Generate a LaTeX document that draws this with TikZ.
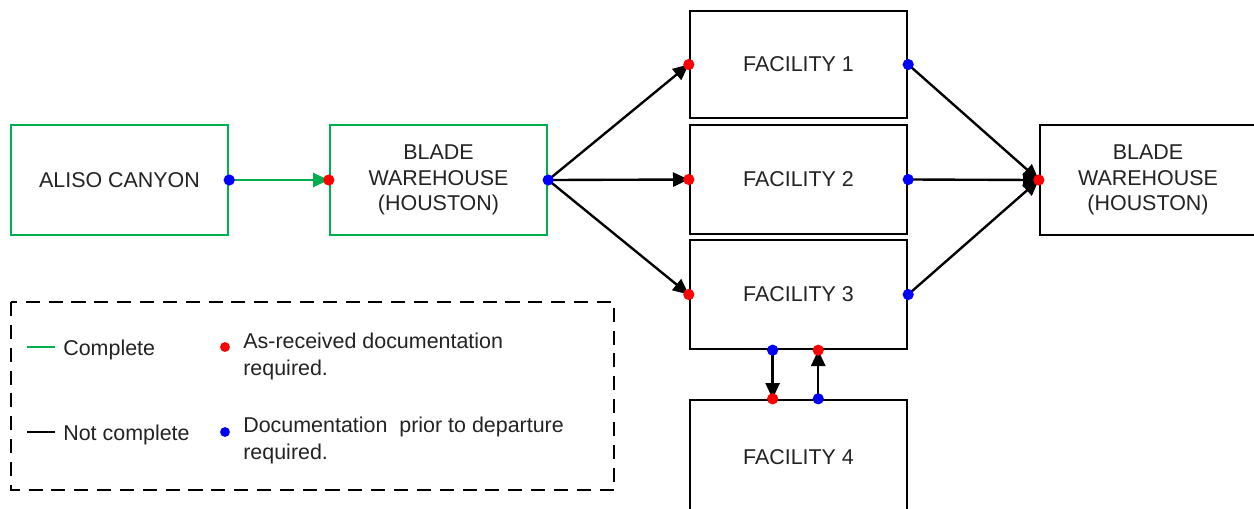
\documentclass[tikz,border=0pt]{standalone}
\usepackage{fontspec}
\setmainfont{Liberation Sans}
\usetikzlibrary{arrows.meta,calc}
\definecolor{cgreen}{RGB}{0,176,80}
\definecolor{cred}{RGB}{255,0,0}
\definecolor{cblue}{RGB}{0,0,255}
\definecolor{ctext}{RGB}{35,35,35}
\begin{document}
\begin{tikzpicture}[x=0.02cm,y=-0.02cm,
  box/.style={draw=black,line width=1.35pt,minimum width=217*0.02cm,minimum height=109*0.02cm,
    inner sep=0pt,align=center,font=\fontsize{12.2}{14.6}\selectfont,text=ctext},
  gbox/.style={box,draw=cgreen},
  conn/.style={line width=1.35pt,-{Triangle[length=9pt,width=8pt]}},
  rdot/.style={circle,fill=cred,inner sep=0pt,minimum size=6.4pt},
  bdot/.style={circle,fill=cblue,inner sep=0pt,minimum size=6.4pt},
  leg/.style={anchor=base west,inner sep=0pt,font=\fontsize{12.2}{14.6}\selectfont,text=ctext}]
\clip (0,0) rectangle (1254,508);
\fill[white] (0,0) rectangle (1254,508);
% boxes
\node[gbox,minimum height=110*0.02cm] (aliso) at (119.5,180) {ALISO CANYON};
\node[gbox,minimum height=110*0.02cm] (blade) at (438.5,180) {BLADE\\WAREHOUSE\\(HOUSTON)};
\node[box,minimum height=107*0.02cm] (f1) at (798.5,64.5) {FACILITY 1};
\node[box] (f2) at (798.5,179.5) {FACILITY 2};
\node[box] (f3) at (798.5,294.5) {FACILITY 3};
\node[box,minimum height=114*0.02cm] (f4) at (798.5,457) {FACILITY 4};
\node[box,minimum width=216*0.02cm,minimum height=110*0.02cm] (wh) at (1148,180) {BLADE\\WAREHOUSE\\(HOUSTON)};
% coordinates between facility 3 and 4
\coordinate (f3a) at ($(f3.south west)!0.382!(f3.south east)$);
\coordinate (f3b) at ($(f3.south west)!0.590!(f3.south east)$);
\coordinate (f4a) at ($(f4.north west)!0.382!(f4.north east)$);
\coordinate (f4b) at ($(f4.north west)!0.590!(f4.north east)$);
% connectors
\draw[conn,draw=cgreen,fill=cgreen] (aliso.east) -- (blade.west);
\draw[conn] (blade.east) -- (f1.west);
\draw[conn] (blade.east) -- (f2.west);
\draw[conn] (blade.east) -- (f3.west);
\draw[conn] (f1.east) -- (wh.west);
\draw[conn] (f2.east) -- (wh.west);
\draw[conn] (f3.east) -- (wh.west);
\draw[conn] (f3a) -- (f4a);
\draw[conn] (f4b) -- (f3b);
% dots
\node[bdot] (d1) at (aliso.east) {};
\node[rdot] (d2) at (blade.west) {};
\node[bdot] (d3) at (blade.east) {};
\node[rdot] (d4) at (f1.west) {};
\node[rdot] (d5) at (f2.west) {};
\node[rdot] (d6) at (f3.west) {};
\node[bdot] (d7) at (f1.east) {};
\node[bdot] (d8) at (f2.east) {};
\node[bdot] (d9) at (f3.east) {};
\node[rdot] (d10) at (wh.west) {};
\node[bdot] (d11) at (f3a) {};
\node[rdot] (d12) at (f3b) {};
\node[rdot] (d13) at (f4a) {};
\node[bdot] (d14) at (f4b) {};
% legend
\draw[line width=1.35pt,dash pattern=on 8pt off 5pt] (11,302) rectangle (614,490);
\coordinate (lg1a) at (27,347); \coordinate (lg1b) at (55,347);
\coordinate (lg2a) at (27,432); \coordinate (lg2b) at (55,432);
\draw[cgreen,line width=1.35pt] (lg1a) -- (lg1b);
\draw[black,line width=1.35pt] (lg2a) -- (lg2b);
\node[leg] (t1) at (63,355) {Complete};
\node[leg] (t2) at (63,440) {Not complete};
\node[rdot,minimum size=5.6pt] (ld1) at (225,347) {};
\node[bdot,minimum size=5.6pt] (ld2) at (225,432) {};
\node[leg] (t3) at (243,348) {As-received documentation};
\node[leg] (t4) at (243,375) {required.};
\node[leg] (t5) at (243,432) {Documentation\ \ prior to departure};
\node[leg] (t6) at (243,459) {required.};
\end{tikzpicture}
\end{document}
